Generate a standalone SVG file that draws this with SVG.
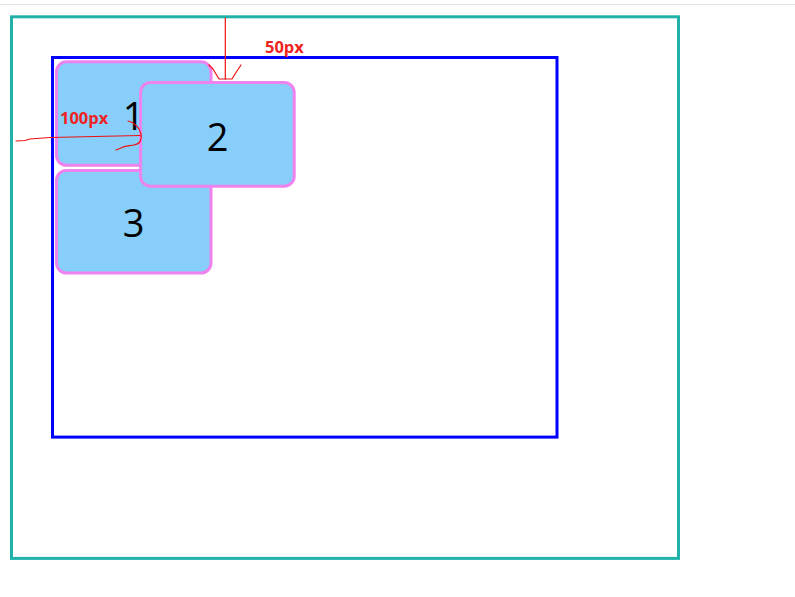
<svg xmlns="http://www.w3.org/2000/svg" width="795" height="597" viewBox="0 0 795 597">
<style>
.box{fill:#87CEFA;stroke:#EE82EE;stroke-width:3}
.num{font-family:"Open Sans","Noto Sans",sans-serif;font-size:38px;fill:#000;text-anchor:middle}
.lbl{font-family:"Open Sans","Noto Sans",sans-serif;font-size:16.5px;font-weight:bold;fill:#EE2222}
.pen{fill:none;stroke:#EE1111;stroke-width:1.2;stroke-linejoin:round;stroke-linecap:round}
</style>
<rect width="795" height="597" fill="#fff"/>
<line x1="0" y1="4.5" x2="795" y2="4.5" stroke="#e2e2e2" stroke-width="1"/>
<g id="outer">
<rect x="11.5" y="16.8" width="667" height="541.6" fill="none" stroke="#20B2AA" stroke-width="3"/>
</g>
<g id="container">
<rect x="52.5" y="57.5" width="504.5" height="379.6" fill="none" stroke="#0000FF" stroke-width="3"/>
</g>
<g id="box1">
<rect class="box" x="56.5" y="61.8" width="154.5" height="103.5" rx="10"/>
<text class="num" x="133.5" y="130">1</text>
</g>
<g id="box3">
<rect class="box" x="56.5" y="170.5" width="154.5" height="102.5" rx="10"/>
<text class="num" x="133.5" y="237">3</text>
</g>
<g id="box2">
<rect class="box" x="140.6" y="82.5" width="153.6" height="103.7" rx="10"/>
<text class="num" x="217.5" y="151">2</text>
</g>
<g id="connectors">
<path class="pen" d="M16,141 L25,140.5 L30,139 L50,137.5 L140,135.5"/>
<path class="pen" d="M128,121 C134,122 140,128 141,134 C142,140 140,144 134,145 C128,146 124,146 121,148 L116,150"/>
<path class="pen" d="M225.3,18 L225.3,79"/>
<path class="pen" d="M209,65 L213,69 L216,74 L219,79 L232,79 L235,74 L239,68 L241,65"/>
</g>
<g id="labels">
<text class="lbl" x="265" y="53">50px</text>
<text class="lbl" x="60" y="124">100px</text>
</g>
</svg>
